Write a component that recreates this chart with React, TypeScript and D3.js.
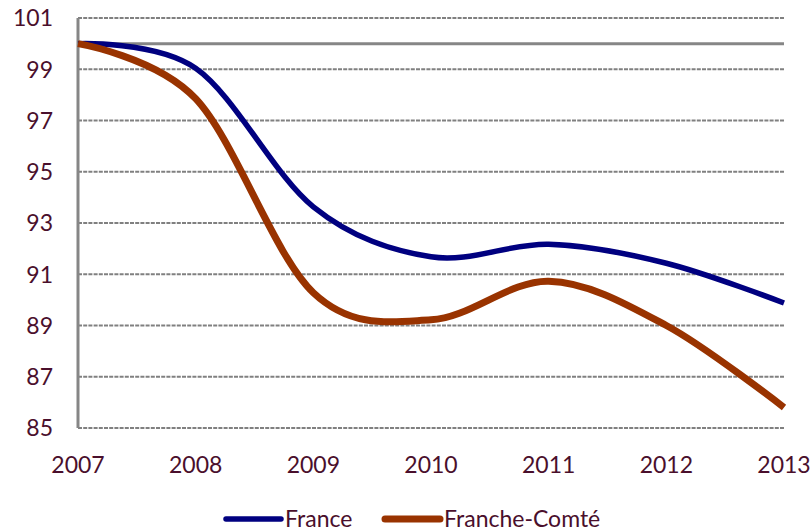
import { useEffect, useRef } from "react"
import * as d3 from "d3"

const years = ["2007", "2008", "2009", "2010", "2011", "2012", "2013"]
const france = [100, 99.04, 93.63, 91.68, 92.17, 91.43, 89.88]
const francheComte = [100, 97.85, 90.28, 89.22, 90.73, 89.0, 85.8]
const yTicks = [85, 87, 89, 91, 93, 95, 97, 99, 101]

const seriesDefs = [
  { name: "France", values: france, color: "#000080", width: 5.5 },
  { name: "Franche-Comté", values: francheComte, color: "#993300", width: 7 },
]

const W = 811
const H = 531
const textColor = "#4a0f2c"
const font = "Lato, 'Open Sans', sans-serif"

export default function App() {
  const svgRef = useRef<SVGSVGElement>(null)

  useEffect(() => {
    const svgEl = svgRef.current
    if (!svgEl) return
    const svg = d3.select(svgEl)
    svg.selectAll("*").remove()

    const margin = { top: 18, right: 27, bottom: 103, left: 78 }
    const x = d3.scalePoint<string>()
      .domain(years)
      .range([margin.left, W - margin.right])
    const y = d3.scaleLinear()
      .domain([85, 101])
      .range([H - margin.bottom, margin.top])

    // dashed gridlines
    svg.append("g").selectAll("line").data(yTicks).join("line")
      .attr("x1", margin.left)
      .attr("x2", W - margin.right)
      .attr("y1", d => y(d))
      .attr("y2", d => y(d))
      .attr("stroke", "#808080")
      .attr("stroke-width", 1.8)
      .attr("stroke-dasharray", "4,1.2")

    // y axis line
    svg.append("line")
      .attr("x1", margin.left).attr("x2", margin.left)
      .attr("y1", y(101)).attr("y2", y(85))
      .attr("stroke", "#868686").attr("stroke-width", 3)

    // horizontal axis crosses at 100
    svg.append("line")
      .attr("x1", margin.left).attr("x2", W - margin.right)
      .attr("y1", y(100)).attr("y2", y(100))
      .attr("stroke", "#868686").attr("stroke-width", 3)

    // y labels
    svg.append("g").selectAll("text").data(yTicks).join("text")
      .attr("x", 53)
      .attr("y", d => y(d))
      .attr("dy", "0.36em")
      .attr("text-anchor", "end")
      .attr("font-family", font)
      .attr("font-size", 23)
      .attr("fill", textColor)
      .text(d => d)

    // x labels
    svg.append("g").selectAll("text").data(years).join("text")
      .attr("x", d => x(d) as number)
      .attr("y", 473)
      .attr("text-anchor", "middle")
      .attr("font-family", font)
      .attr("font-size", 23)
      .attr("fill", textColor)
      .text(d => d)

    const line = d3.line<number>()
      .x((_, i) => x(years[i]) as number)
      .y(d => y(d))
      .curve(d3.curveCardinal.tension(0))

    svg.append("g").selectAll("path").data(seriesDefs).join("path")
      .attr("d", d => line(d.values) || "")
      .attr("fill", "none")
      .attr("stroke", d => d.color)
      .attr("stroke-width", d => d.width)
      .attr("stroke-linejoin", "round")

    // legend
    const legendX = [226, 385]
    const lg = svg.append("g").selectAll("g").data(seriesDefs).join("g")
      .attr("transform", (_, i) => `translate(${legendX[i]},519)`)
    lg.append("line")
      .attr("x1", 0).attr("x2", 55)
      .attr("stroke", d => d.color)
      .attr("stroke-width", d => d.width)
      .attr("stroke-linecap", "round")
    lg.append("text")
      .attr("x", 59)
      .attr("dy", "0.36em")
      .attr("font-family", font)
      .attr("font-size", 23)
      .attr("fill", textColor)
      .text(d => d.name)
  }, [])

  return (
    <svg
      ref={svgRef}
      width={W}
      height={H}
      style={{ position: "absolute", left: 0, top: 0, background: "#fff" }}
    />
  )
}
